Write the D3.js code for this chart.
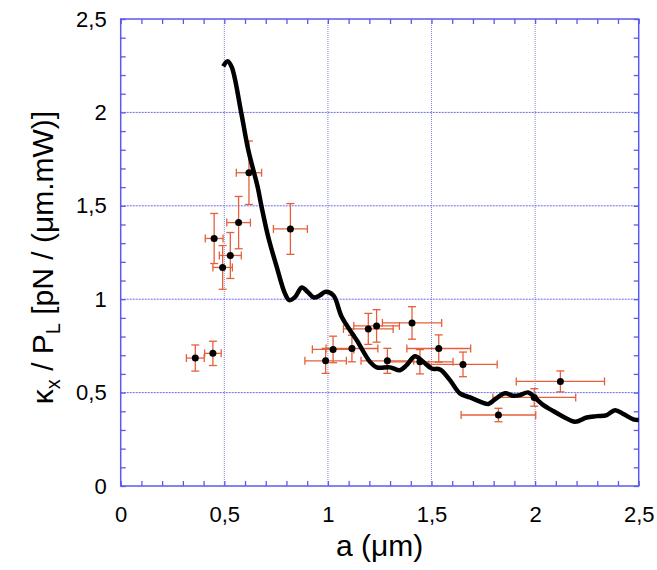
<!DOCTYPE html>
<html>
<head>
<meta charset="utf-8">
<script src="https://cdn.jsdelivr.net/npm/d3@7"></script>
<style>
  body { margin: 0; background: #fff; }
  text { font-family: Arial, "Liberation Sans", sans-serif; }
</style>
</head>
<body>
<div id="chart"></div>
<script>
'use strict';

// measured points (a in um, kappa/P)
var pointX = [0.36, 0.445, 0.451, 0.492, 0.529, 0.569, 0.619, 0.819, 0.989, 1.025, 1.116,
  1.195, 1.235, 1.287, 1.406, 1.444, 1.535, 1.652, 1.823, 1.996, 2.122];
var pointY = [0.685, 0.71, 1.325, 1.17, 1.234, 1.41, 1.677, 1.376, 0.67, 0.731, 0.736,
  0.841, 0.857, 0.67, 0.873, 0.665, 0.736, 0.651, 0.38, 0.474, 0.56];
var errX = [0.043, 0.04, 0.043, 0.047, 0.053, 0.057, 0.061, 0.082, 0.1, 0.1, 0.125,
  0.12, 0.11, 0.127, 0.143, 0.16, 0.154, 0.165, 0.18, 0.2, 0.213];
var errY = [0.07, 0.065, 0.134, 0.117, 0.123, 0.14, 0.17, 0.136, 0.067, 0.071, 0.071,
  0.083, 0.087, 0.067, 0.087, 0.065, 0.073, 0.066, 0.036, 0.047, 0.056];

// theory curve
var curveX = [0.495, 0.516, 0.536, 0.581, 0.616, 0.661, 0.68, 0.712, 0.753, 0.793, 0.814,
  0.841, 0.874, 0.904, 0.933, 0.962, 0.986, 1.026, 1.067, 1.139, 1.203, 1.236, 1.3, 1.348,
  1.38, 1.42, 1.46, 1.501, 1.541, 1.589, 1.637, 1.686, 1.75, 1.774, 1.806, 1.855, 1.895,
  1.927, 1.967, 2.0, 2.04, 2.08, 2.136, 2.193, 2.249, 2.297, 2.346, 2.386, 2.426, 2.474, 2.5];
var curveY = [2.246, 2.274, 2.242, 2.002, 1.797, 1.601, 1.494, 1.333, 1.173, 1.03, 0.995,
  1.011, 1.063, 1.037, 1.009, 1.021, 1.039, 1.021, 0.905, 0.781, 0.665, 0.635, 0.635, 0.62,
  0.647, 0.695, 0.665, 0.629, 0.624, 0.567, 0.496, 0.474, 0.445, 0.439, 0.464, 0.496, 0.483,
  0.487, 0.501, 0.472, 0.433, 0.406, 0.371, 0.344, 0.367, 0.374, 0.38, 0.406, 0.385, 0.357, 0.353];

var majorTicks = [0, 0.5, 1, 1.5, 2, 2.5];
var tickLabels = ['0', '0,5', '1', '1,5', '2', '2,5'];
var gridValues = [0.5, 1, 1.5, 2];

var width = 657, height = 570;
var margin = { left: 120.7, top: 19, right: 18.3, bottom: 84 };
var innerWidth = width - margin.left - margin.right;
var innerHeight = height - margin.top - margin.bottom;

var axisColor = '#5a5af0';
var errColor = '#e5603a';

var svg = d3.select('#chart').append('svg')
  .attr('width', width)
  .attr('height', height);

var chart = svg.append('g')
  .attr('transform', 'translate(' + margin.left + ',' + margin.top + ')');

var x = d3.scaleLinear().domain([0, 2.5]).range([0, innerWidth]);
var y = d3.scaleLinear().domain([0, 2.5]).range([innerHeight, 0]);

// grid
chart.selectAll('line.gx')
  .data(gridValues)
  .enter().append('line')
  .attr('class', 'gx')
  .attr('x1', function(d) { return x(d); })
  .attr('x2', function(d) { return x(d); })
  .attr('y1', 0).attr('y2', innerHeight)
  .attr('stroke', '#8080e0').attr('stroke-width', 1)
  .attr('stroke-dasharray', '1,1');

chart.selectAll('line.gy')
  .data(gridValues)
  .enter().append('line')
  .attr('class', 'gy')
  .attr('y1', function(d) { return y(d); })
  .attr('y2', function(d) { return y(d); })
  .attr('x1', 0).attr('x2', innerWidth)
  .attr('stroke', '#6a6af0').attr('stroke-width', 1)
  .attr('stroke-dasharray', '2,1');

// axes: minor ticks every 0.1, inward, on all sides
var minor = d3.range(0, 26).map(function(i) { return i / 10; });
var fmt = function(d) {
  var i = majorTicks.indexOf(d);
  return i < 0 ? '' : tickLabels[i];
};

function styleAxis(g) {
  g.select('.domain').remove();
  g.selectAll('.tick line').attr('stroke', axisColor).attr('stroke-width', 1.3);
  g.selectAll('.tick text').filter(function() { return this.textContent === ''; }).remove();
  g.selectAll('.tick text').attr('fill', '#000').attr('font-size', 22)
    .attr('font-family', 'Arial, "Liberation Sans", sans-serif');
}

chart.append('g')
  .attr('transform', 'translate(0,' + innerHeight + ')')
  .call(d3.axisBottom(x).tickValues(minor).tickFormat(fmt).tickSizeInner(-5).tickPadding(20))
  .call(styleAxis);

chart.append('g')
  .call(d3.axisTop(x).tickValues(minor).tickFormat('').tickSizeInner(-5))
  .call(styleAxis);

chart.append('g')
  .call(d3.axisLeft(y).tickValues(minor).tickFormat(fmt).tickSizeInner(-5).tickPadding(14))
  .call(styleAxis);

chart.append('g')
  .attr('transform', 'translate(' + innerWidth + ',0)')
  .call(d3.axisRight(y).tickValues(minor).tickFormat('').tickSizeInner(-5))
  .call(styleAxis);

chart.append('rect')
  .attr('width', innerWidth).attr('height', innerHeight)
  .attr('fill', 'none').attr('stroke', axisColor).attr('stroke-width', 1.5);

// error bars
var idx = d3.range(pointX.length);
var cap = 4;
var eb = chart.append('g').attr('stroke', errColor).attr('stroke-width', 1.3);

eb.selectAll('line.h').data(idx).enter().append('line')
  .attr('x1', function(i) { return x(pointX[i] - errX[i]); })
  .attr('x2', function(i) { return x(pointX[i] + errX[i]); })
  .attr('y1', function(i) { return y(pointY[i]); })
  .attr('y2', function(i) { return y(pointY[i]); });
eb.selectAll('line.v').data(idx).enter().append('line')
  .attr('x1', function(i) { return x(pointX[i]); })
  .attr('x2', function(i) { return x(pointX[i]); })
  .attr('y1', function(i) { return y(pointY[i] - errY[i]); })
  .attr('y2', function(i) { return y(pointY[i] + errY[i]); });

[-1, 1].forEach(function(s) {
  eb.selectAll(null).data(idx).enter().append('line')
    .attr('x1', function(i) { return x(pointX[i] + s * errX[i]); })
    .attr('x2', function(i) { return x(pointX[i] + s * errX[i]); })
    .attr('y1', function(i) { return y(pointY[i]) - cap; })
    .attr('y2', function(i) { return y(pointY[i]) + cap; });
  eb.selectAll(null).data(idx).enter().append('line')
    .attr('x1', function(i) { return x(pointX[i]) - cap; })
    .attr('x2', function(i) { return x(pointX[i]) + cap; })
    .attr('y1', function(i) { return y(pointY[i] + s * errY[i]); })
    .attr('y2', function(i) { return y(pointY[i] + s * errY[i]); });
});

chart.selectAll('circle.pt').data(idx).enter().append('circle')
  .attr('cx', function(i) { return x(pointX[i]); })
  .attr('cy', function(i) { return y(pointY[i]); })
  .attr('r', 3.5)
  .attr('fill', '#000');

// theory line
var line = d3.line()
  .x(function(i) { return x(curveX[i]); })
  .y(function(i) { return y(curveY[i]); })
  .curve(d3.curveCatmullRom.alpha(0.5));

chart.append('path')
  .datum(d3.range(curveX.length))
  .attr('d', line)
  .attr('fill', 'none')
  .attr('stroke', '#000')
  .attr('stroke-width', 4.5)
  .attr('stroke-linejoin', 'round');

// axis titles
svg.append('text')
  .attr('x', margin.left + innerWidth / 2)
  .attr('y', 556)
  .attr('text-anchor', 'middle')
  .attr('font-size', 30)
  .text('a (\u03bcm)');

var yt = svg.append('text')
  .attr('transform', 'translate(53,' + (margin.top + innerHeight / 2 + 5) + ') rotate(-90)')
  .attr('text-anchor', 'middle')
  .attr('font-size', 30);
yt.append('tspan').text('\u03ba');
yt.append('tspan').attr('font-size', 20).attr('dy', 7).text('x');
yt.append('tspan').attr('dy', -7).text(' / P');
yt.append('tspan').attr('font-size', 20).attr('dy', 7).text('L');
yt.append('tspan').attr('dy', -7).text(' [pN / (\u03bcm.mW)]');
</script>
</body>
</html>
